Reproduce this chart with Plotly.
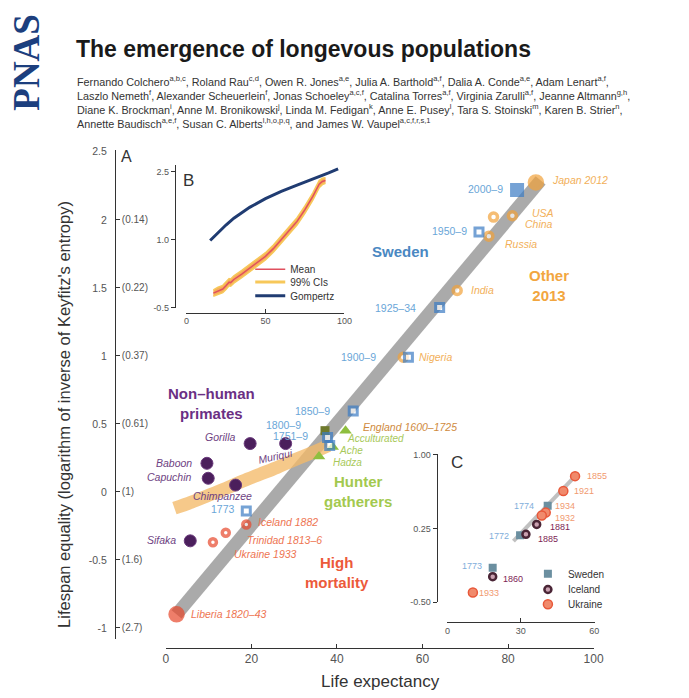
import plotly.graph_objects as go

W, H = 689, 698
FONT = "Liberation Sans, Arial, Helvetica, sans-serif"

# ---------------- Panel A data ----------------
sweden_labels = ["2000-9", "1950-9", "1925-34", "1900-9", "1850-9", "1800-9", "1751-9", "1773"]
sweden_e0 = [82.1, 73.2, 64.0, 56.7, 43.8, 37.8, 38.3, 18.8]
sweden_eq = [2.22, 1.91, 1.355, 0.99, 0.594, 0.40, 0.34, -0.14]

other_labels = ["Japan 2012", "USA", "China", "Russia", "India", "Nigeria"]
other_e0 = [86.5, 81.0, 76.6, 75.5, 68.1, 55.5]
other_eq = [2.275, 2.03, 2.02, 1.88, 1.48, 0.99]

england_label = ["England 1600-1725"]
england_e0 = [37.2]
england_eq = [0.45]

hunter_labels = ["Acculturated", "Ache", "Hadza"]
hunter_e0 = [42.0, 39.0, 35.8]
hunter_eq = [0.45, 0.33, 0.26]

highmort_labels = ["Iceland 1882", "Trinidad 1813-6", "Ukraine 1933", "Liberia 1820-43"]
highmort_e0 = [18.8, 14.0, 11.0, 2.5]
highmort_eq = [-0.24, -0.30, -0.37, -0.90]

primate_labels = ["Gorilla", "Muriqui", "Baboon", "Capuchin", "Chimpanzee", "Sifaka"]
primate_e0 = [19.7, 28.0, 9.6, 9.9, 16.3, 5.7]
primate_eq = [0.355, 0.355, 0.21, 0.10, 0.05, -0.36]

primate_band_e0 = [2, 6, 10, 14, 18, 22, 26, 30, 34, 38]
primate_band_eq = [-0.12, -0.075, -0.025, 0.025, 0.08, 0.13, 0.18, 0.235, 0.285, 0.34]

human_band_e0 = [2.5, 87.6]
human_band_eq = [-0.90, 2.29]

main_xticks = [0, 20, 40, 60, 80, 100]
main_yticks = [-1, -0.5, 0, 0.5, 1, 1.5, 2, 2.5]
main_yticktext = ["-1", "-0.5", "0", "0.5", "1", "1.5", "2", "2.5"]
entropy_yticks = [-1, -0.5, 0, 0.5, 1, 1.5, 2]
entropy_yticktext = ["(2.7)", "(1.6)", "(1)", "(0.61)", "(0.37)", "(0.22)", "(0.14)"]

# ---------------- Panel B data ----------------
b_gomp_x = [15, 20, 25, 30, 35, 40, 50, 60, 70, 80, 90, 96]
b_gomp_y = [0.98, 1.16, 1.32, 1.47, 1.60, 1.71, 1.90, 2.06, 2.20, 2.33, 2.47, 2.56]
b_mean_x = [17, 20, 23, 25, 27, 28, 30, 35, 40, 45, 50, 55, 60, 65, 70, 75, 80, 84, 86, 88]
b_mean_y = [-0.18, -0.13, -0.09, -0.02, 0.06, 0.05, 0.12, 0.24, 0.37, 0.50, 0.63, 0.80,
            1.00, 1.20, 1.40, 1.66, 1.95, 2.22, 2.28, 2.30]
b_ci_lo = [-0.25, -0.21, -0.17, -0.10, -0.02, -0.03, 0.04, 0.16, 0.29, 0.42, 0.55, 0.72,
           0.92, 1.12, 1.32, 1.58, 1.87, 2.14, 2.21, 2.24]
b_ci_hi = [-0.11, -0.05, -0.01, 0.06, 0.14, 0.13, 0.20, 0.32, 0.45, 0.58, 0.71, 0.88,
           1.08, 1.28, 1.48, 1.74, 2.03, 2.30, 2.35, 2.36]
b_xticks = [0, 50, 100]
b_yticks = [-0.5, 1.0, 2.5]
b_yticktext = ["-0.5", "1.0", "2.5"]

# ---------------- Panel C data ----------------
c_sweden_labels = ["1774", "1772", "1773"]
c_sweden_e0 = [41.0, 29.7, 18.5]
c_sweden_eq = [0.48, 0.18, -0.15]
c_iceland_labels = ["1881", "1885", "1860"]
c_iceland_e0 = [36.5, 32.1, 18.5]
c_iceland_eq = [0.29, 0.19, -0.24]
c_ukraine_labels = ["1855", "1921", "1934", "1932", "1933"]
c_ukraine_e0 = [52.2, 47.4, 40.2, 38.6, 10.4]
c_ukraine_eq = [0.78, 0.63, 0.41, 0.38, -0.40]
c_band_e0 = [27.0, 53.0]
c_band_eq = [0.12, 0.80]
c_xticks = [0, 30, 60]
c_yticks = [-0.5, 0.25, 1.0]
c_yticktext = ["-0.50", "0.25", "1.00"]

# ---------------- colours ----------------
SW = "#3b7cc4"; SW_T = "#6aa6d8"
OT = "#f2a23a"; OT_T = "#f2b05a"
HM = "#e8482c"; HM_T = "#ee7552"
HG = "#8fbf3f"; HG_T = "#a8c95a"
PR = "#4b1f5c"; PR_T = "#6e3f82"
ENG = "#6f7a2d"; ENG_T = "#cf8a3d"

fig = go.Figure()

# Panel A
fig.add_trace(go.Scatter(x=human_band_e0, y=human_band_eq, mode="lines",
                         line=dict(color="#aaaaaa", width=13), showlegend=False, hoverinfo="skip"))
fig.add_trace(go.Scatter(x=primate_band_e0, y=primate_band_eq, mode="lines",
                         line=dict(color="rgba(243,186,105,0.78)", width=13, shape="spline"),
                         showlegend=False, hoverinfo="skip"))
fig.add_trace(go.Scatter(x=primate_e0, y=primate_eq, mode="markers", text=primate_labels,
                         marker=dict(symbol="circle", size=12, color=PR, line=dict(color="#6a3a7c", width=1)),
                         showlegend=False))
fig.add_trace(go.Scatter(x=hunter_e0, y=hunter_eq, mode="markers", text=hunter_labels,
                         marker=dict(symbol="triangle-up", size=11, color=HG), showlegend=False))
fig.add_trace(go.Scatter(x=england_e0, y=england_eq, mode="markers", text=england_label,
                         marker=dict(symbol="square", size=9, color=ENG), showlegend=False))
fig.add_trace(go.Scatter(x=highmort_e0, y=highmort_eq, mode="markers", text=highmort_labels,
                         marker=dict(symbol="circle",
                                     size=[7 if l != "Liberia 1820-43" else 13 for l in highmort_labels],
                                     color=["white" if l != "Liberia 1820-43" else HM for l in highmort_labels],
                                     line=dict(color=HM, width=3.5)), showlegend=False))
fig.add_trace(go.Scatter(x=other_e0, y=other_eq, mode="markers", text=other_labels,
                         marker=dict(symbol="circle",
                                     size=[13 if l == "Japan 2012" else 8 for l in other_labels],
                                     color=[OT if l == "Japan 2012" else "white" for l in other_labels],
                                     line=dict(color=OT, width=3.5)), showlegend=False))
fig.add_trace(go.Scatter(x=sweden_e0, y=sweden_eq, mode="markers", text=sweden_labels,
                         marker=dict(symbol="square",
                                     size=[11 if l == "2000-9" else 8 for l in sweden_labels],
                                     color=[SW if l == "2000-9" else "white" for l in sweden_labels],
                                     line=dict(color=SW, width=3)), showlegend=False))
# invisible trace to activate the entropy axis
fig.add_trace(go.Scatter(x=[None], y=[None], yaxis="y2", showlegend=False, hoverinfo="skip"))

# Panel B
fig.add_trace(go.Scatter(x=b_mean_x, y=b_ci_lo, xaxis="x2", yaxis="y3", mode="lines",
                         line=dict(color="#f7c85a", width=1.5), showlegend=False, hoverinfo="skip"))
fig.add_trace(go.Scatter(x=b_mean_x, y=b_ci_hi, xaxis="x2", yaxis="y3", mode="lines",
                         line=dict(color="#f7c85a", width=1.5), fill="tonexty",
                         fillcolor="rgba(244,160,60,0.85)", showlegend=False, hoverinfo="skip"))
fig.add_trace(go.Scatter(x=b_mean_x, y=b_mean_y, xaxis="x2", yaxis="y3", mode="lines",
                         line=dict(color="#e0505e", width=1.5), name="Mean", legend="legend"))
fig.add_trace(go.Scatter(x=[None], y=[None], xaxis="x2", yaxis="y3", mode="lines",
                         line=dict(color="#f7c85a", width=3), name="99% CIs", legend="legend2"))
fig.add_trace(go.Scatter(x=b_gomp_x, y=b_gomp_y, xaxis="x2", yaxis="y3", mode="lines",
                         line=dict(color="#203c72", width=3), name="Gompertz", legend="legend3"))

# Panel C
fig.add_trace(go.Scatter(x=c_band_e0, y=c_band_eq, xaxis="x3", yaxis="y4", mode="lines",
                         line=dict(color="rgba(150,150,150,0.6)", width=4), showlegend=False, hoverinfo="skip"))
fig.add_trace(go.Scatter(x=c_sweden_e0, y=c_sweden_eq, xaxis="x3", yaxis="y4", mode="markers",
                         text=c_sweden_labels, name="Sweden", legend="legend4",
                         marker=dict(symbol="square", size=8, color="#6b8fa0")))
fig.add_trace(go.Scatter(x=c_iceland_e0, y=c_iceland_eq, xaxis="x3", yaxis="y4", mode="markers",
                         text=c_iceland_labels, name="Iceland", legend="legend5",
                         marker=dict(symbol="circle", size=7, color="#c9a0b0", line=dict(color="#4a2536", width=2.5))))
fig.add_trace(go.Scatter(x=c_ukraine_e0, y=c_ukraine_eq, xaxis="x3", yaxis="y4", mode="markers",
                         text=c_ukraine_labels, name="Ukraine", legend="legend6",
                         marker=dict(symbol="circle", size=9, color="#f08a6c", line=dict(color="#e8583a", width=1.5))))


def P(x, y, text, size=10.5, color="#333", anchor="left", angle=0, family=FONT, yanchor="middle"):
    return dict(x=x / W, y=1 - y / H, xref="paper", yref="paper", text=text, showarrow=False,
                xanchor=anchor, yanchor=yanchor, textangle=angle, align="left",
                font=dict(size=size, color=color, family=family))


ann = []
# header
ann.append(P(24, 58, "<b>PNAS</b>", size=37, color="#1c3f7e", anchor="center", angle=-90,
             family="Liberation Serif, DejaVu Serif, serif"))
ann.append(P(72, 45, "<b>The emergence of longevous populations</b>", size=23, color="#1a1a1a"))
authors = [
    "Fernando Colchero<sup>a,b,c</sup>, Roland Rau<sup>c,d</sup>, Owen R. Jones<sup>a,e</sup>, Julia A. Barthold<sup>a,f</sup>, Dalia A. Conde<sup>a,e</sup>, Adam Lenart<sup>a,f</sup>,",
    "Laszlo Nemeth<sup>f</sup>, Alexander Scheuerlein<sup>f</sup>, Jonas Schoeley<sup>a,c,f</sup>, Catalina Torres<sup>a,f</sup>, Virginia Zarulli<sup>a,f</sup>, Jeanne Altmann<sup>g,h</sup>,",
    "Diane K. Brockman<sup>i</sup>, Anne M. Bronikowski<sup>j</sup>, Linda M. Fedigan<sup>k</sup>, Anne E. Pusey<sup>l</sup>, Tara S. Stoinski<sup>m</sup>, Karen B. Strier<sup>n</sup>,",
    "Annette Baudisch<sup>a,e,f</sup>, Susan C. Alberts<sup>l,h,o,p,q</sup>, and James W. Vaupel<sup>a,c,f,r,s,1</sup>",
]
ann.append(P(73, 68, "<br>".join(authors), size=10.8, color="#333", yanchor="top"))

# axis titles
ann.append(P(62, 415, "Lifespan equality (logarithm of inverse of Keyfitz's entropy)", size=16.5,
             color="#333", anchor="center", angle=-90))
ann.append(P(385, 686, "Life expectancy", size=17, color="#333", anchor="center"))

# panel letters
ann.append(P(118, 154, "A", size=16, color="#333"))
ann.append(P(181, 178, "B", size=17, color="#333"))
ann.append(P(455, 464, "C", size=17, color="#333"))

# group labels
ann.append(P(212, 404, "<b>Non\u2013human<br>primates</b>", size=15, color="#6b2f84", anchor="center"))
ann.append(P(405, 250, "<b>Sweden</b>", size=15, color="#4a88c2", anchor="center"))
ann.append(P(557, 285, "<b>Other<br>2013</b>", size=15, color="#f2a640", anchor="center"))
ann.append(P(362, 494, "<b>Hunter<br>gatherers</b>", size=15, color="#a3c94e", anchor="center"))
ann.append(P(340, 576, "<b>High<br>mortality</b>", size=15, color="#ec5a3a", anchor="center"))
for a in ann[-5:]:
    a["align"] = "center"

# Sweden year labels
sw_pos = {"2000-9": (512, 187), "1950-9": (475, 229), "1925-34": (423, 307), "1900-9": (382, 357),
          "1850-9": (335, 412), "1800-9": (306, 426), "1751-9": (313, 437), "1773": (238, 511)}
for lab in sweden_labels:
    x, y = sw_pos[lab]
    ann.append(P(x, y, lab.replace("-", "\u2013"), size=10.5, color=SW_T, anchor="right"))

ot_pos = {"Japan 2012": (558, 178), "USA": (537, 211), "China": (530, 222), "Russia": (510, 242),
          "India": (475, 289), "Nigeria": (422, 357)}
for lab in other_labels:
    x, y = ot_pos[lab]
    ann.append(P(x, y, "<i>" + lab + "</i>", size=10.5, color=OT_T))

ann.append(P(365, 428, "<i>England 1600\u20131725</i>", size=10.5, color=ENG_T))
hg_pos = {"Acculturated": (349, 440), "Ache": (340, 452), "Hadza": (334, 464)}
for lab in hunter_labels:
    x, y = hg_pos[lab]
    ann.append(P(x, y, "<i>" + lab + "</i>", size=10, color=HG_T))

pr_pos = {"Gorilla": (240, 438, "right", 0), "Muriqui": (257, 458, "left", -12),
          "Baboon": (195, 465, "right", 0), "Capuchin": (195, 479, "right", 0),
          "Chimpanzee": (224, 498, "center", 0), "Sifaka": (178, 543, "right", 0)}
for lab in primate_labels:
    x, y, a, ang = pr_pos[lab]
    ann.append(P(x, y, "<i>" + lab + "</i>", size=10.5, color=PR_T, anchor=a, angle=ang))

hm_pos = {"Iceland 1882": (258, 525), "Trinidad 1813-6": (247, 543), "Ukraine 1933": (233, 557),
          "Liberia 1820-43": (190, 618)}
for lab in highmort_labels:
    x, y = hm_pos[lab]
    ann.append(P(x, y, "<i>" + lab.replace("-", "\u2013") + "</i>", size=10.5, color=HM_T))

# Panel C labels
cu_pos = {"1855": (593, 478), "1921": (580, 493), "1934": (561, 508), "1932": (561, 520), "1933": (483, 597)}
for lab in c_ukraine_labels:
    x, y = cu_pos[lab]
    ann.append(P(x, y, lab, size=9, color="#f19a70"))
ci_pos = {"1881": (555, 530), "1885": (543, 542), "1860": (508, 582)}
for lab in c_iceland_labels:
    x, y = ci_pos[lab]
    ann.append(P(x, y, lab, size=9, color="#7d2455"))
cs_pos = {"1774": (543, 508), "1772": (518, 539), "1773": (490, 569)}
for lab in c_sweden_labels:
    x, y = cs_pos[lab]
    ann.append(P(x, y, lab, size=9, color="#7faedb", anchor="right"))

axis_common = dict(showgrid=False, zeroline=False, linecolor="#333", linewidth=1, tickcolor="#333")


def LEG(x, y):
    return dict(x=x / W, y=1 - y / H, xanchor="left", yanchor="middle", bgcolor="rgba(0,0,0,0)",
                font=dict(size=10, color="#333"), tracegroupgap=0)


fig.update_layout(
    width=W, height=H,
    margin=dict(l=0, r=0, t=0, b=0),
    paper_bgcolor="white", plot_bgcolor="rgba(0,0,0,0)",
    font=dict(family=FONT, color="#333"),
    annotations=ann,
    xaxis=dict(domain=[166 / W, 602 / W], range=[0, 100], anchor="free", position=1 - 652 / H,
               showline=True, ticks="inside", ticklen=4, tickvals=main_xticks,
               tickfont=dict(size=12, color="#555"), **axis_common),
    yaxis=dict(domain=[1 - 643 / H, 1 - 147 / H], range=[-1.08, 2.514], anchor="free", position=114 / W,
               showline=True, ticks="", tickvals=main_yticks, ticktext=main_yticktext,
               ticklabelstandoff=6, tickfont=dict(size=10.5, color="#555"), **axis_common),
    yaxis2=dict(overlaying="y", side="right", anchor="free", position=114 / W, range=[-1.08, 2.514],
                showline=False, ticks="outside", ticklen=4, tickvals=entropy_yticks,
                ticktext=entropy_yticktext, tickfont=dict(size=10, color="#555"), **axis_common),
    xaxis2=dict(domain=[187 / W, 348 / W], range=[0, 100], anchor="free", position=1 - 312 / H,
                showline=True, ticks="inside", ticklen=4, tickvals=b_xticks,
                tickfont=dict(size=9, color="#555"), **axis_common),
    yaxis3=dict(domain=[1 - 307 / H, 1 - 162 / H], range=[-0.5, 2.65], anchor="free", position=175 / W,
                showline=True, ticks="outside", ticklen=4, tickvals=b_yticks, ticktext=b_yticktext,
                tickfont=dict(size=9, color="#555"), **axis_common),
    xaxis3=dict(domain=[453 / W, 603 / W], range=[0, 60.2], anchor="free", position=1 - 626 / H,
                showline=True, ticks="inside", ticklen=4, tickvals=c_xticks,
                tickfont=dict(size=9, color="#555"), **axis_common),
    yaxis4=dict(domain=[1 - 606 / H, 1 - 456 / H], range=[-0.5, 1.0], anchor="free", position=442 / W,
                showline=True, ticks="outside", ticklen=4, tickvals=c_yticks, ticktext=c_yticktext,
                tickfont=dict(size=9, color="#555"), **axis_common),
    legend=LEG(252, 268),
    legend2=LEG(252, 281),
    legend3=LEG(252, 295),
    legend4=LEG(535, 577),
    legend5=LEG(535, 593),
    legend6=LEG(535, 608),
)

fig.write_html("out.html", config={"displayModeBar": False},
               post_script="document.body.style.margin='0';")
